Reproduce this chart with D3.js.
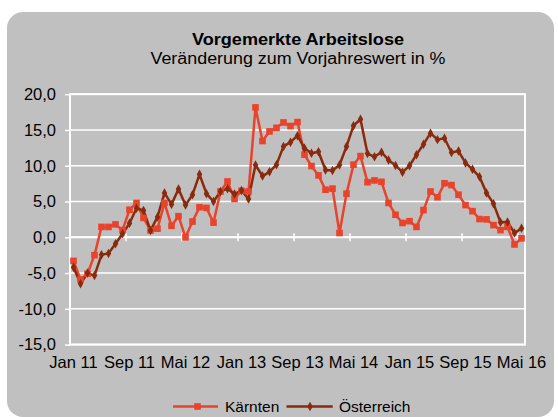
<!DOCTYPE html>
<html><head><meta charset="utf-8">
<script src="https://cdn.jsdelivr.net/npm/d3@7"></script>
<style>
body{margin:0;background:#fff}
svg{display:block}
text{font-family:"Liberation Sans",Arial,sans-serif;fill:#000}
</style>
</head><body>
<svg id="c" width="558" height="417"></svg>
<script>
const categories = [
 "Jan 11","Feb 11","Mär 11","Apr 11","Mai 11","Jun 11","Jul 11","Aug 11","Sep 11","Okt 11","Nov 11","Dez 11",
 "Jan 12","Feb 12","Mär 12","Apr 12","Mai 12","Jun 12","Jul 12","Aug 12","Sep 12","Okt 12","Nov 12","Dez 12",
 "Jan 13","Feb 13","Mär 13","Apr 13","Mai 13","Jun 13","Jul 13","Aug 13","Sep 13","Okt 13","Nov 13","Dez 13",
 "Jan 14","Feb 14","Mär 14","Apr 14","Mai 14","Jun 14","Jul 14","Aug 14","Sep 14","Okt 14","Nov 14","Dez 14",
 "Jan 15","Feb 15","Mär 15","Apr 15","Mai 15","Jun 15","Jul 15","Aug 15","Sep 15","Okt 15","Nov 15","Dez 15",
 "Jan 16","Feb 16","Mär 16","Apr 16","Mai 16"];

const kaernten = [
 -3.3,-5.9,-5.1,-2.5,1.45,1.45,1.8,1.0,3.85,4.8,2.7,0.95,
 1.2,4.8,1.6,2.95,0.0,2.2,4.2,4.1,2.05,6.4,7.8,5.35,
 6.5,6.4,18.15,13.45,14.8,15.3,16.05,15.55,16.1,11.55,9.95,8.65,
 6.65,6.8,0.6,6.1,10.15,11.35,7.7,7.95,7.75,4.8,3.15,2.0,
 2.25,1.45,3.8,6.4,5.6,7.55,7.3,5.95,4.5,3.65,2.55,2.5,
 1.7,1.0,1.45,-1.0,-0.15];

const oesterreich = [
 -4.2,-6.5,-5.0,-5.35,-2.45,-2.25,-0.9,0.5,1.95,4.05,3.75,0.95,
 2.85,6.2,4.6,6.75,4.5,5.95,8.8,6.1,5.0,6.4,6.8,6.05,
 6.55,5.35,10.1,8.55,9.15,10.15,12.7,13.3,14.2,12.45,11.75,11.95,
 9.4,9.35,10.1,12.7,15.6,16.5,11.7,11.25,11.9,10.8,10.05,9.1,
 10.0,11.55,13.0,14.55,13.65,13.85,11.85,12.05,10.4,9.5,8.45,6.2,
 4.7,2.1,2.15,0.6,1.25];

const tickLabels = ["Jan 11","Sep 11","Mai 12","Jan 13","Sep 13","Mai 14","Jan 15","Sep 15","Mai 16"];
const yTicks = [-15,-10,-5,0,5,10,15,20];
const seriesNames = ["Kärnten","Österreich"];
const colors = ["#E8432B","#8A2A0C"];

const svg = d3.select("#c");
svg.append("rect").attr("x",7).attr("y",12).attr("width",547).attr("height",405).attr("rx",16).attr("fill","#c0c0c0");

const L=70,R=525,T=94.2,B=344.6;
const x = d3.scaleBand().domain(categories).range([L,R]).padding(0);
const y = d3.scaleLinear().domain([-15,20]).range([B,T]);
const cx = c => x(c)+x.bandwidth()/2;

// gridlines
svg.append("g").selectAll("line").data(yTicks).join("line")
  .attr("x1",L).attr("x2",R).attr("y1",d=>y(d)).attr("y2",d=>y(d))
  .attr("stroke","#fff").attr("stroke-width",1.5);
// border
svg.append("rect").attr("x",L).attr("y",T).attr("width",R-L).attr("height",B-T)
  .attr("fill","none").attr("stroke","#fff").attr("stroke-width",2);

// y axis
const fmt = d => (d<0?"-":"")+Math.abs(d).toFixed(1).replace(".",",");
const ya = svg.append("g").attr("transform",`translate(${L},0)`)
  .call(d3.axisLeft(y).tickValues(yTicks).tickSize(5).tickPadding(9).tickFormat(fmt));
ya.select(".domain").remove();
ya.selectAll(".tick line").attr("stroke","#fff").attr("stroke-width",1.5);
ya.selectAll(".tick text").attr("font-size","16.5px").attr("font-family","Liberation Sans, Arial, sans-serif").attr("fill","#000");

// x axis at zero
const y0 = y(0);
svg.append("line").attr("x1",L).attr("x2",R).attr("y1",y0).attr("y2",y0).attr("stroke","#fff").attr("stroke-width",2);
svg.append("g").selectAll("line").data(tickLabels).join("line")
  .attr("x1",d=>x(d)).attr("x2",d=>x(d)).attr("y1",y0-4).attr("y2",y0+4)
  .attr("stroke","#fff").attr("stroke-width",1.5);
svg.append("g").selectAll("text").data(tickLabels).join("text")
  .attr("x",d=>cx(d)).attr("y",368).attr("text-anchor","middle").attr("font-size","16.5px").text(d=>d);

// series
const series = [kaernten, oesterreich];
const line = d3.line().x((d,i)=>cx(categories[i])).y(d=>y(d));
series.forEach((s,k)=>{
  svg.append("path").datum(s).attr("d",line).attr("fill","none")
    .attr("stroke",colors[k]).attr("stroke-width",2.5).attr("stroke-linejoin","round");
});
// markers
svg.append("g").selectAll("rect").data(kaernten).join("rect")
  .attr("x",(d,i)=>cx(categories[i])-3.3).attr("y",d=>y(d)-3.3)
  .attr("width",6.6).attr("height",6.6).attr("fill",colors[0]);
const diamond = d3.symbol().type(d3.symbolDiamond).size(26);
svg.append("g").selectAll("path").data(oesterreich).join("path")
  .attr("transform",(d,i)=>`translate(${cx(categories[i])},${y(d)})`)
  .attr("d",diamond).attr("fill",colors[1]);

// title
svg.append("text").attr("x",298).attr("y",44.5).attr("text-anchor","middle")
  .attr("font-size","16px").attr("font-weight","bold")
  .attr("textLength",212).attr("lengthAdjust","spacingAndGlyphs").text("Vorgemerkte Arbeitslose");
svg.append("text").attr("x",298).attr("y",64).attr("text-anchor","middle")
  .attr("font-size","16px")
  .attr("textLength",295).attr("lengthAdjust","spacingAndGlyphs").text("Veränderung zum Vorjahreswert in %");

// legend
const legend = [{x1:173,x2:218,m:197.5,tx:225},{x1:286.5,x2:332.7,m:310,tx:339}];
const ly = 406.5;
legend.forEach((l,k)=>{
  svg.append("line").attr("x1",l.x1).attr("x2",l.x2).attr("y1",ly).attr("y2",ly)
    .attr("stroke",colors[k]).attr("stroke-width",2.5);
  if(k===0){
    svg.append("rect").attr("x",l.m-3.3).attr("y",ly-3.3).attr("width",6.6).attr("height",6.6).attr("fill",colors[0]);
  } else {
    svg.append("path").attr("transform",`translate(${l.m},${ly})`).attr("d",diamond).attr("fill",colors[1]);
  }
  svg.append("text").attr("x",l.tx).attr("y",ly+5.5).attr("font-size","15.5px").text(seriesNames[k]);
});
</script>
</body></html>
